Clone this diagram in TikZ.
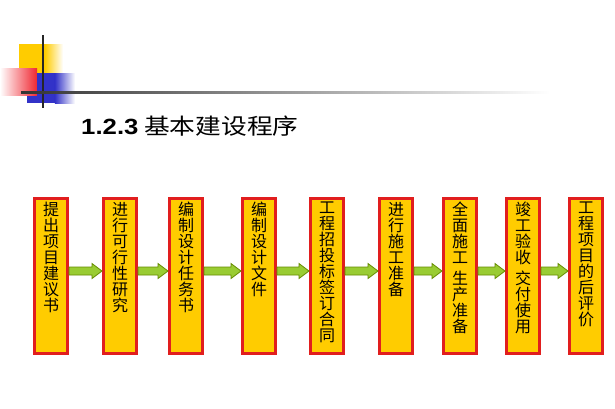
\documentclass[tikz,border=0pt]{standalone}
\usepackage{fontspec}
\setmainfont{Noto Sans CJK SC}
\newfontfamily\latinbold{Liberation Sans}
\usetikzlibrary{calc}
\definecolor{boxfill}{RGB}{255,204,0}
\definecolor{boxred}{RGB}{225,30,30}
\definecolor{arrowfill}{RGB}{153,204,51}
\definecolor{arrowline}{RGB}{102,140,0}
\definecolor{logoyellow}{RGB}{255,204,0}
\definecolor{logored}{RGB}{240,40,50}
\definecolor{logoblue}{RGB}{50,50,200}
\begin{document}
\begin{tikzpicture}[x=1pt,y=-1pt,
  stepbox/.style={draw=boxred, line width=3pt, fill=boxfill, minimum width=33pt, minimum height=155pt, inner sep=0pt},
  steptext/.style={anchor=north, inner sep=0pt, align=center, font=\fontsize{16}{16}\selectfont},
  fatarrow/.style={draw=arrowline, fill=arrowfill, line width=0.8pt, line join=miter,
    to path={let \p1=(\tikztostart), \p2=(\tikztotarget) in
      (\x1,\y1+4pt) -- (\x2-10pt,\y1+4pt) -- (\x2-10pt,\y1+7.5pt) -- (\x2,\y1) -- (\x2-10pt,\y1-7.5pt) -- (\x2-10pt,\y1-4pt) -- (\x1,\y1-4pt) -- cycle}}]
\useasboundingbox (0,0) rectangle (615,408);
\fill[white] (0,0) rectangle (615,408);
% logo
\fill[logoyellow] (19,44) rectangle (45,73);
\shade[left color=logoyellow, right color=white] (44.8,44) rectangle (63,73);
\shade[left color=white, right color=logored] (0,68) rectangle (37,95);
\fill[logoblue] (37,73) rectangle (55,103);
\shade[left color=logoblue, right color=white] (54.8,73) rectangle (75,103);
\fill[logoblue] (27,96) rectangle (37.2,103);
\fill[black!85] (42,35) rectangle (44,108);
\shade[left color=black!80, right color=white] (21,91) rectangle (550,93);
% title
\node[anchor=base west, inner sep=0pt, xscale=1.17, font=\fontsize{22}{22}\selectfont] (title) at (81,134) {{\latinbold\bfseries 1.2.3} 基本建设程序};
% boxes
\node[stepbox] (b1) at (51,276) {};
\node[stepbox] (b2) at (120,276) {};
\node[stepbox] (b3) at (186,276) {};
\node[stepbox] (b4) at (259,276) {};
\node[stepbox] (b5) at (327,276) {};
\node[stepbox] (b6) at (396,276) {};
\node[stepbox] (b7) at (460,276) {};
\node[stepbox] (b8) at (523,276) {};
\node[stepbox] (b9) at (586,276) {};
% texts
\node[steptext] (t1) at ([yshift=-5pt]b1.north) {提\\出\\项\\目\\建\\议\\书};
\node[steptext] (t2) at ([yshift=-5pt]b2.north) {进\\行\\可\\行\\性\\研\\究};
\node[steptext] (t3) at ([yshift=-5pt]b3.north) {编\\制\\设\\计\\任\\务\\书};
\node[steptext] (t4) at ([yshift=-5pt]b4.north) {编\\制\\设\\计\\文\\件};
\node[steptext] (t5) at ([yshift=-5pt]b5.north) {工\\程\\招\\投\\标\\签\\订\\合\\同};
\node[steptext] (t6) at ([yshift=-5pt]b6.north) {进\\行\\施\\工\\准\\备};
\node[steptext] (t7) at ([yshift=-5pt]b7.north) {全\\面\\施\\工\\[5pt]生\\产\\准\\备};
\node[steptext] (t8) at ([yshift=-5pt]b8.north) {竣\\工\\验\\收\\[5pt]交\\付\\使\\用};
\node[steptext] (t9) at ([yshift=-5pt]b9.north) {工\\程\\项\\目\\的\\后\\评\\价};
% arrows
\draw[fatarrow] ([yshift=5pt]b1.east) to ([yshift=5pt]b2.west);
\draw[fatarrow] ([yshift=5pt]b2.east) to ([yshift=5pt]b3.west);
\draw[fatarrow] ([yshift=5pt]b3.east) to ([yshift=5pt]b4.west);
\draw[fatarrow] ([yshift=5pt]b4.east) to ([yshift=5pt]b5.west);
\draw[fatarrow] ([yshift=5pt]b5.east) to ([yshift=5pt]b6.west);
\draw[fatarrow] ([yshift=5pt]b6.east) to ([yshift=5pt]b7.west);
\draw[fatarrow] ([yshift=5pt]b7.east) to ([yshift=5pt]b8.west);
\draw[fatarrow] ([yshift=5pt]b8.east) to ([yshift=5pt]b9.west);
\end{tikzpicture}
\end{document}
